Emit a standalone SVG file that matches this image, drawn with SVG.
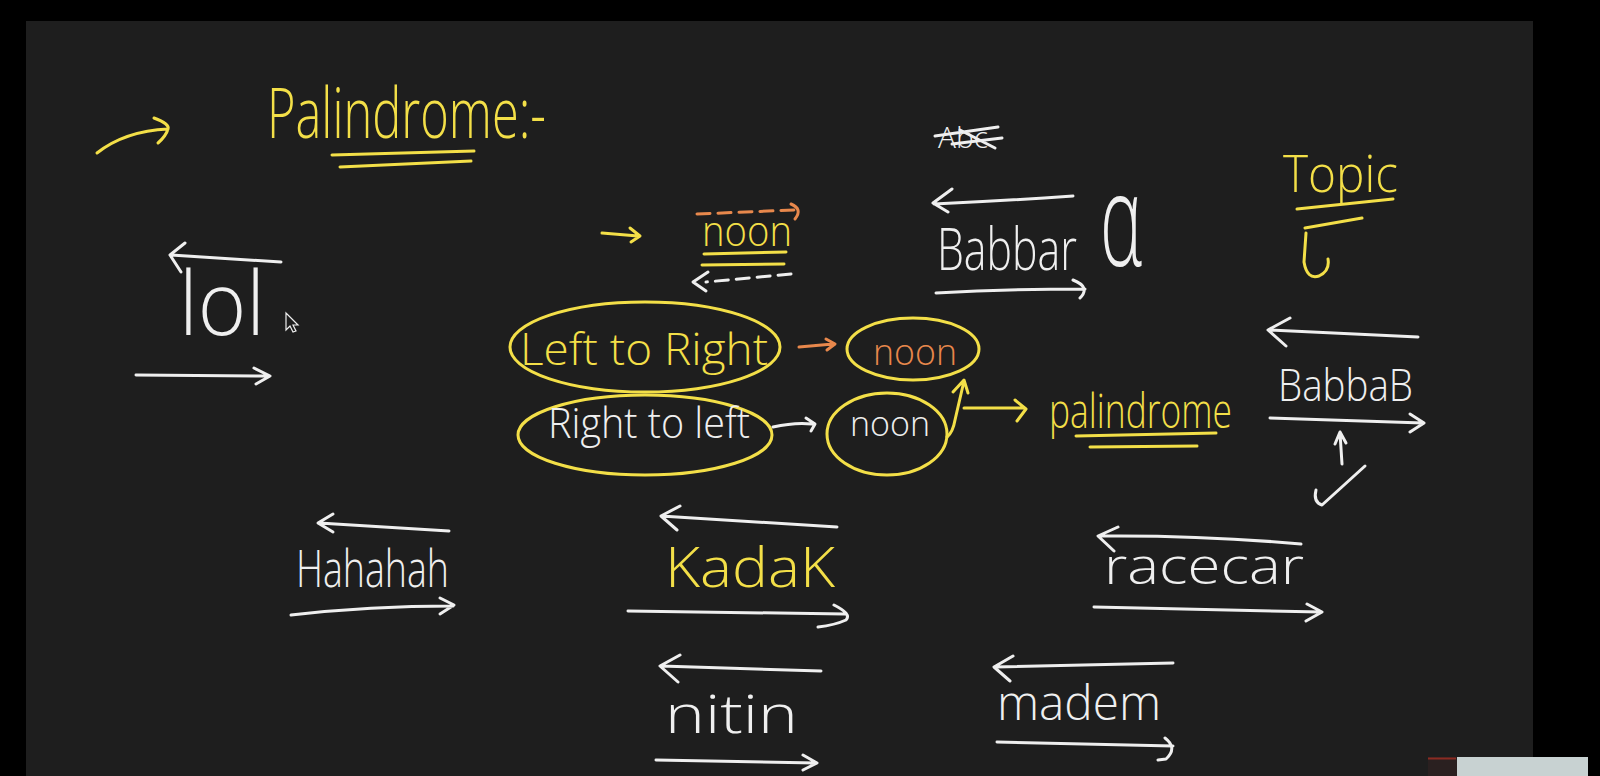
<svg xmlns="http://www.w3.org/2000/svg" width="1600" height="776" viewBox="0 0 1600 776">
<style>
.s{fill:none;stroke-width:3;stroke-linecap:round;stroke-linejoin:round}
.w{stroke:#efefef}
.y{stroke:#f3df48}
.o{stroke:#e8884c}
.d{stroke-dasharray:13 8}
text{font-family:"Open Sans","Liberation Sans",sans-serif;font-weight:300}
.tw{fill:#efefef}
.ty{fill:#f3df48}
.to{fill:#e8884c}
</style>
<rect x="0" y="0" width="1600" height="776" fill="#000"/>
<rect x="26" y="21" width="1507" height="755" fill="#1e1e1e"/>

<g id="title">
<text class="ty" x="267" y="138" font-size="70" textLength="279" lengthAdjust="spacingAndGlyphs">Palindrome:-</text>
<path class="s y" d="M332,155 L474,151 M340,167 L471,161"/>
</g>

<g id="lol">
<text class="tw" x="179" y="335" font-size="88" textLength="86" lengthAdjust="spacingAndGlyphs">lol</text>
</g>
<g id="cursor">
<path d="M286,313 L286,330 L290,326 L293,332 L296,331 L293,325 L298,325 Z" fill="#1e1e1e" stroke="#efefef" stroke-width="1.2"/>
</g>

<g id="noon-top">
<text class="ty" x="702" y="246" font-size="42" textLength="90" lengthAdjust="spacingAndGlyphs">noon</text>
<path class="s y" d="M704,254 L786,252 M702,265 L784,264"/>
</g>

<g id="left-to-right">
<ellipse class="s y" cx="645" cy="347" rx="135" ry="45"/>
<text class="ty" x="520" y="365" font-size="44" textLength="248" lengthAdjust="spacingAndGlyphs">Left to Right</text>
</g>

<g id="noon-orange">
<ellipse class="s y" cx="913" cy="349" rx="66" ry="31"/>
<text class="to" x="873" y="365" font-size="36" textLength="84" lengthAdjust="spacingAndGlyphs">noon</text>
</g>

<g id="right-to-left">
<ellipse class="s y" cx="645" cy="435" rx="127" ry="40"/>
<text class="tw" x="548" y="438" font-size="42" textLength="202" lengthAdjust="spacingAndGlyphs">Right to left</text>
</g>

<g id="noon-white">
<ellipse class="s y" cx="887" cy="434" rx="60" ry="41"/>
<text class="tw" x="850" y="436" font-size="34" textLength="80" lengthAdjust="spacingAndGlyphs">noon</text>
</g>

<g id="palindrome">
<text class="ty" transform="translate(1049,428) scale(1,1.2)" x="0" y="0" font-size="40" textLength="183" lengthAdjust="spacingAndGlyphs">palindrome</text>
<path class="s y" d="M1076,436 L1216,433 M1090,447 L1197,446"/>
</g>

<g id="crossed">
<text class="tw" x="938" y="148" font-size="30" textLength="50" lengthAdjust="spacingAndGlyphs">Abc</text>
<path class="s w" d="M935,136 L998,127 M952,144 L1002,138 M960,130 L995,148"/>
</g>

<g id="babbar">
<text class="tw" transform="translate(937,270) scale(1,1.3)" x="0" y="0" font-size="46" textLength="140" lengthAdjust="spacingAndGlyphs">Babbar</text>
<text class="tw" x="1100" y="266" font-size="130" textLength="42" lengthAdjust="spacingAndGlyphs">α</text>
</g>

<g id="topic">
<text class="ty" x="1283" y="192" font-size="52" textLength="115" lengthAdjust="spacingAndGlyphs">Topic</text>
<path class="s y" d="M1297,209 L1393,199 M1305,228 L1362,218 M1306,233 L1304,262 Q1307,280 1319,276 Q1330,271 1328,259"/>
</g>

<g id="babbab">
<text class="tw" x="1278" y="401" font-size="44" textLength="135" lengthAdjust="spacingAndGlyphs">BabbaB</text>
</g>

<g id="hahahah">
<text class="tw" x="296" y="587" font-size="52" textLength="153" lengthAdjust="spacingAndGlyphs">Hahahah</text>
</g>

<g id="kadak">
<text class="ty" x="665" y="587" font-size="56" textLength="170" lengthAdjust="spacingAndGlyphs">KadaK</text>
</g>

<g id="nitin">
<text class="tw" x="665" y="733" font-size="54" textLength="133" lengthAdjust="spacingAndGlyphs">nitin</text>
</g>

<g id="racecar">
<text class="tw" x="1104" y="584" font-size="50" textLength="200" lengthAdjust="spacingAndGlyphs">racecar</text>
</g>

<g id="madem">
<text class="tw" x="997" y="720" font-size="48" textLength="164" lengthAdjust="spacingAndGlyphs">madem</text>
</g>

<g id="connectors">
<path class="s y" d="M97,153 Q125,131 168,129 M154,118 Q170,124 168,129 Q166,136 158,143"/>
<path class="s w" d="M281,262 L171,255 M185,243 L170,255 L181,272"/>
<path class="s w" d="M136,375 L269,376 M254,368 L270,376 L256,384"/>
<path class="s y" d="M602,233 L638,236 M630,228 L640,236 L631,242"/>
<path class="s o d" d="M697,214 L794,210"/>
<path class="s o" d="M791,204 Q803,209 795,219"/>
<path class="s w d" d="M791,274 L706,282"/>
<path class="s w" d="M708,272 L693,282 L706,291"/>
<path class="s o" d="M799,347 L833,344 M826,339 L835,344 L827,350"/>
<path class="s w" d="M773,427 Q795,422 812,424 M806,418 L815,424 L811,431"/>
<path class="s y" d="M947,437 Q953,432 955,420 L964,381 M953,392 L964,380 L968,393"/>
<path class="s y" d="M964,408 L1023,408 M1015,400 L1026,409 L1017,421"/>
<path class="s w" d="M1073,196 Q1000,201 934,204 M952,189 L933,203 L948,212"/>
<path class="s w" d="M936,293 Q1010,289 1085,289 M1073,280 Q1091,287 1080,298"/>
<path class="s w" d="M1418,337 L1270,330 M1290,318 L1268,330 L1286,346"/>
<path class="s w" d="M1270,418 L1423,423 M1410,414 L1424,423 L1410,432"/>
<path class="s w" d="M1342,464 L1340,433 M1335,444 L1340,432 L1346,443"/>
<path class="s w" d="M1316,490 Q1313,502 1322,505 L1365,466"/>
<path class="s w" d="M449,531 L319,523 M333,514 L318,523 L333,532"/>
<path class="s w" d="M291,615 Q370,606 453,606 M440,598 L454,605 L440,614"/>
<path class="s w" d="M837,527 L661,516 M680,506 L661,516 L677,530"/>
<path class="s w" d="M628,611 L845,614 M834,605 Q852,614 846,620 Q835,625 818,627"/>
<path class="s w" d="M821,671 L661,666 M680,655 L660,666 L678,682"/>
<path class="s w" d="M656,760 L816,763 M803,755 L817,763 L803,770"/>
<path class="s w" d="M1301,544 Q1200,535 1099,536 M1118,527 L1098,536 L1114,551"/>
<path class="s w" d="M1094,607 L1321,612 M1307,604 L1322,612 L1306,621"/>
<path class="s w" d="M1173,663 L995,667 M1013,656 L994,667 L1010,681"/>
<path class="s w" d="M997,742 L1173,746 M1165,738 Q1178,748 1166,759 L1158,760"/>
</g>

<g id="thumbnail">
<rect x="1428" y="757" width="29" height="19" fill="#2a2020"/>
<path d="M1428,758.5 L1456,758.5" stroke="#8b2b22" stroke-width="2"/>
<rect x="1457" y="757" width="131" height="19" fill="#c8d2d2"/>
</g>
</svg>
